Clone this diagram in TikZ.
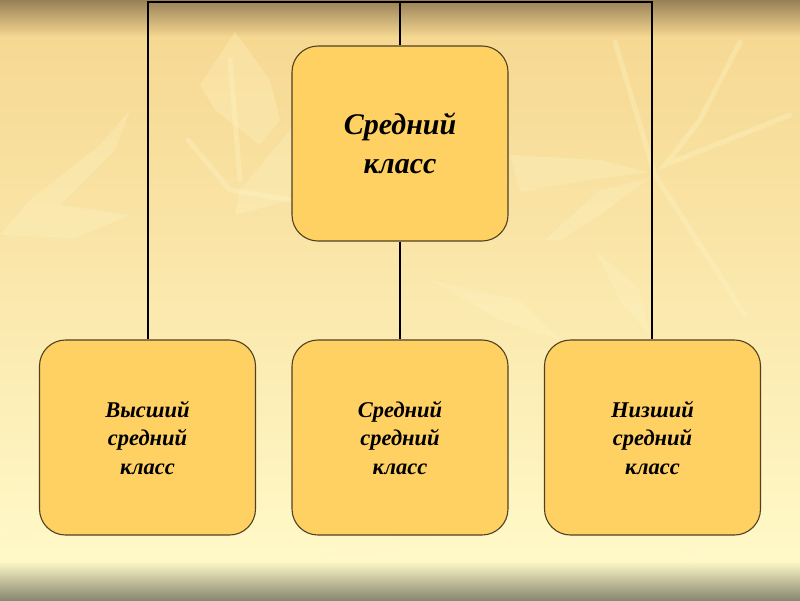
\documentclass[tikz,border=0pt]{standalone}
\usepackage{fontspec}
\setmainfont{Liberation Serif}
\begin{document}
\begin{tikzpicture}[x=1pt,y=-1pt,
  box/.style={draw=boxline, line width=1.1pt, fill=boxfill, rounded corners=26pt,
    minimum width=216pt, minimum height=195pt, inner sep=0pt, align=center,
    font=\fontsize{22.5}{28.5}\selectfont\bfseries\itshape},
  bigbox/.style={box, font=\fontsize{30}{39}\selectfont\bfseries\itshape},
  conn/.style={draw=black, line width=2pt},
  leaf/.style={fill=leafc, draw=none, opacity=0.28},
  stem/.style={draw=leafc, line width=5pt, opacity=0.32, line cap=round}]
\definecolor{boxfill}{RGB}{255,209,98}
\definecolor{boxline}{RGB}{80,64,36}
\definecolor{leafc}{RGB}{255,246,200}
\definecolor{bgtop}{RGB}{246,216,146}
\definecolor{bgbot}{RGB}{255,249,200}
\definecolor{bandtop}{RGB}{152,128,86}
\definecolor{bandbot}{RGB}{136,136,112}
\useasboundingbox (0,0) rectangle (800,600);
% background
\shade[top color=bgtop, bottom color=bgbot] (0,36) rectangle (800,562);
\shade[top color=bandtop, bottom color=bgtop] (0,0) rectangle (800,37);
\shade[top color=bgbot, bottom color=bandbot] (0,561) rectangle (800,600);
% faint leaves
\fill[leaf] (0,235) -- (30,200) -- (100,145) -- (130,110) -- (115,150) -- (60,205) -- (130,215) -- (75,238) -- cycle;
\fill[leaf] (235,32) -- (270,80) -- (280,120) -- (260,145) -- (215,110) -- (200,85) -- cycle;
\fill[leaf] (300,118) -- (240,190) -- (235,215) -- (290,200) -- cycle;
\draw[stem] (230,60) -- (240,180);
\draw[stem] (188,140) -- (230,190) -- (290,200);
\fill[leaf] (510,155) -- (600,160) -- (648,172) -- (590,180) -- (520,192) -- cycle;
\fill[leaf] (545,240) -- (600,190) -- (650,178) -- (600,215) -- (560,240) -- cycle;
\draw[stem] (615,42) -- (655,175) -- (745,315);
\draw[stem] (740,42) -- (700,120) -- (665,165) -- (790,115);
\fill[leaf] (595,250) -- (620,300) -- (650,335) -- (640,290) -- cycle;
\fill[leaf] (430,280) -- (520,300) -- (560,340) -- (500,320) -- cycle;
\fill[leaf] (0,545) -- (20,470) -- (35,550) -- cycle;
\fill[leaf] (300,560) -- (400,535) -- (460,525) -- (410,548) -- (330,560) -- cycle;
\fill[leaf] (680,545) -- (700,545) -- (693,565) -- cycle;
% boxes
\node[bigbox] (top) at (400,143.5) {Средний\\класс};
\node[box] (b1) at (147.5,437.5) {Высший\\средний\\класс};
\node[box] (b2) at (400,437.5) {Средний\\средний\\класс};
\node[box] (b3) at (652.5,437.5) {Низший\\средний\\класс};
% connectors
\coordinate (tl) at (148,1.5);
\coordinate (tm) at (400,1.5);
\coordinate (tr) at (652,1.5);
\draw[conn] (b1.north -| tl) -- (tl) -- (tr) -- (b3.north -| tr);
\draw[conn] (tm) -- (top.north);
\draw[conn] (top.south) -- (b2.north);
\end{tikzpicture}
\end{document}
